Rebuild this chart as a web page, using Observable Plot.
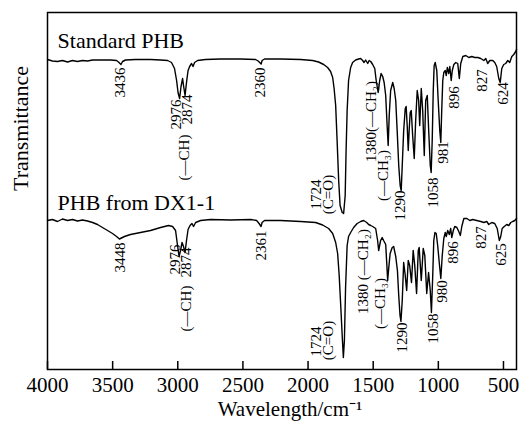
<!DOCTYPE html>
<html><head><meta charset="utf-8">
<script src="https://cdn.jsdelivr.net/npm/d3@7"></script>
<script src="https://cdn.jsdelivr.net/npm/@observablehq/plot@0.6"></script>
<style>body{margin:0;background:#fff;}</style>
</head><body><div id="chart"></div>
<script>
// [wavenumber cm-1, transmittance (arbitrary units, stacked)]
const standardPHB = [[4000,310],[3962,308.5],[3923,308],[3885,309],[3846,307.5],[3808,309],[3770,308],[3731,309],[3693,308.5],[3654,309.5],[3593,309.5],[3516,309.5],[3470,309],[3455,307.5],[3436,305],[3424,308],[3401,309.5],[3324,310],[3209,310],[3132,309.5],[3078,309],[3048,307],[3025,301],[3009,289],[2998,277],[2986,271],[2975,283],[2963,291],[2956,284],[2944,274],[2933,287],[2921,299],[2909,303],[2894,306],[2883,303],[2871,307],[2848,309],[2787,310],[2671,310.5],[2518,310.5],[2403,310],[2383,308.5],[2360,305.5],[2353,309],[2334,310.5],[2211,310.5],[2057,310],[1965,309],[1919,307.5],[1880,305],[1850,302],[1827,298],[1811,292],[1800,281],[1788,264],[1777,229],[1765,189],[1754,164],[1738,157],[1727,156],[1715,174],[1708,219],[1700,259],[1689,289],[1673,302],[1658,307],[1635,309.5],[1612,310.5],[1596,311],[1581,309],[1570,307],[1558,309.5],[1542,306],[1531,309],[1519,308],[1504,305],[1488,301],[1477,289],[1462,277],[1450,289],[1439,296],[1427,293],[1416,287],[1404,274],[1393,244],[1385,224],[1377,254],[1366,279],[1350,287],[1339,281],[1327,269],[1316,239],[1304,204],[1293,184],[1285,179],[1277,204],[1266,239],[1254,261],[1247,263],[1239,244],[1231,219],[1224,239],[1216,257],[1208,259],[1197,234],[1185,211],[1174,249],[1162,279],[1151,269],[1143,244],[1131,281],[1120,259],[1108,214],[1097,269],[1085,274],[1074,239],[1062,204],[1055,197],[1047,229],[1039,279],[1032,304],[1024,307],[1012,299],[1001,269],[989,239],[981,227],[974,259],[966,289],[958,297],[947,299],[939,294],[931,302],[920,296],[912,303],[901,289],[893,299],[881,305],[866,307],[851,306],[839,291],[828,306],[812,313],[789,314],[766,312],[743,313],[721,312],[697,312],[674,311],[651,309],[636,311],[621,306],[605,309],[582,309],[567,307],[552,303],[536,291],[525,287],[513,301],[498,305],[483,306],[467,309],[452,307],[436,313],[421,315],[406,318],[400,320]];

const phbDX11 = [[4000,149],[3962,150],[3923,148],[3885,150.5],[3846,149],[3808,150],[3770,148.5],[3731,149.5],[3693,148.5],[3654,147],[3616,145],[3578,142],[3539,139],[3501,136],[3470,133],[3448,130.5],[3409,133],[3363,135],[3286,137],[3209,139],[3132,142],[3071,144],[3040,143],[3017,139],[3002,124],[2990,113],[2979,119],[2967,127],[2956,123],[2944,117],[2933,129],[2921,140],[2906,144],[2891,146],[2879,143],[2863,147],[2825,149],[2748,150],[2595,149.5],[2441,150],[2395,149],[2376,146],[2361,143],[2353,147],[2334,149],[2211,149],[2057,148],[1942,147],[1888,144.5],[1842,141],[1811,136],[1788,127],[1773,116],[1761,94],[1750,66],[1738,34],[1729,12],[1721,29],[1712,82],[1700,124],[1689,133],[1673,137],[1650,142],[1623,146],[1596,148],[1573,149],[1550,147],[1535,145],[1519,144],[1504,143],[1481,141],[1466,129],[1458,119],[1443,129],[1431,132],[1420,129],[1404,125],[1395,104],[1389,89],[1381,101],[1370,116],[1354,122],[1343,123],[1327,113],[1314,99],[1304,74],[1294,54],[1287,48],[1277,69],[1266,107],[1254,94],[1243,79],[1231,109],[1220,104],[1206,87],[1193,119],[1181,104],[1167,76],[1154,119],[1147,122],[1131,89],[1116,121],[1104,114],[1089,76],[1075,97],[1062,79],[1053,57],[1043,94],[1035,129],[1026,137],[1016,136],[1005,124],[993,107],[981,91],[970,114],[958,131],[947,137],[939,133],[928,139],[916,135],[905,141],[897,132],[885,139],[874,143],[858,142],[843,138],[831,134],[820,143],[804,151],[781,151],[758,149],[736,150],[705,149],[674,148],[651,147],[628,148],[613,145],[590,147],[567,146],[548,141],[532,129],[521,133],[510,141],[494,143],[475,145],[459,144],[444,147],[429,148],[413,149],[400,151]];

const xTicks = [4000, 3500, 3000, 2500, 2000, 1500, 1000, 500];
const seriesNames = ["Standard PHB", "PHB from DX1-1"];
const seriesNamePos = [[3923, 329], [3923, 167]];
const xTitle = "Wavelength/cm\u207B\u00B9";
const yTitle = "Transmittance";

// [text, wavenumber, transmittance]
const peakLabels = [
  ["3436",3439,287],["2976",3013,255],["2874",2929,260],["(\u2014CH)",2948,212],
  ["2360",2364,287],["1724",1934,175],["(C=O)",1842,175],["1380(\u2014CH\u2082)",1519,248],
  ["(\u2014CH\u2083)",1420,194],["1290",1289,164],["1058",1043,177],["981",959,217],
  ["896",882,272],["827",667,289],["624",506,276],
  ["3448",3439,112],["2976",3017,110],["2874",2932,107],["(\u2014CH)",2932,61],
  ["2361",2356,124],["1724",1934,28],["(C=O)",1842,29],["1380 (\u2014CH\u2082)",1573,98],
  ["(\u2014CH\u2083)",1443,66],["1290",1281,32],["1058",1043,41],["980",974,78],
  ["896",889,117],["827",674,132],["625",521,115]
];

const toRows = a => a.map(([w, t]) => ({w, t}));
const font = "Liberation Serif, Times New Roman, serif";
const tickLen = 8; // inward tick length in y units (1 unit = 1 px here)

const chart = Plot.plot({
  width: 522, height: 425,
  marginLeft: 47, marginRight: 6, marginTop: 12, marginBottom: 56,
  style: {fontFamily: font, background: "white", color: "black"},
  x: {domain: [4000, 400], label: null},
  y: {domain: [0, 357], axis: null, label: null},
  marks: [
    Plot.line(toRows(standardPHB), {x: "w", y: "t", stroke: "black", strokeWidth: 1.4}),
    Plot.line(toRows(phbDX11), {x: "w", y: "t", stroke: "black", strokeWidth: 1.4}),
    Plot.ruleX(xTicks, {x: d => d, y1: 0, y2: tickLen, stroke: "black", strokeWidth: 1.5}),
    Plot.frame({stroke: "black", strokeWidth: 1.5}),
    Plot.axisX({ticks: xTicks, tickSize: 0, tickPadding: 8, fontSize: 21, label: null, fill: "black", tickFormat: d => String(d)}),
    Plot.text(peakLabels, {x: d => d[1], y: d => d[2], text: d => d[0], rotate: -90, fontSize: 15, fill: "black"}),
    Plot.text(seriesNames, {x: (d, i) => seriesNamePos[i][0], y: (d, i) => seriesNamePos[i][1], text: d => d, textAnchor: "start", fontSize: 22, fill: "black"}),
    Plot.text([yTitle], {text: d => d, frameAnchor: "left", rotate: -90, dx: -27, fontSize: 22, fill: "black"}),
    Plot.text([xTitle], {text: d => d, frameAnchor: "bottom", dx: 8, dy: 46, fontSize: 21, fill: "black"})
  ]
});
document.getElementById("chart").append(chart);
</script>
</body></html>
